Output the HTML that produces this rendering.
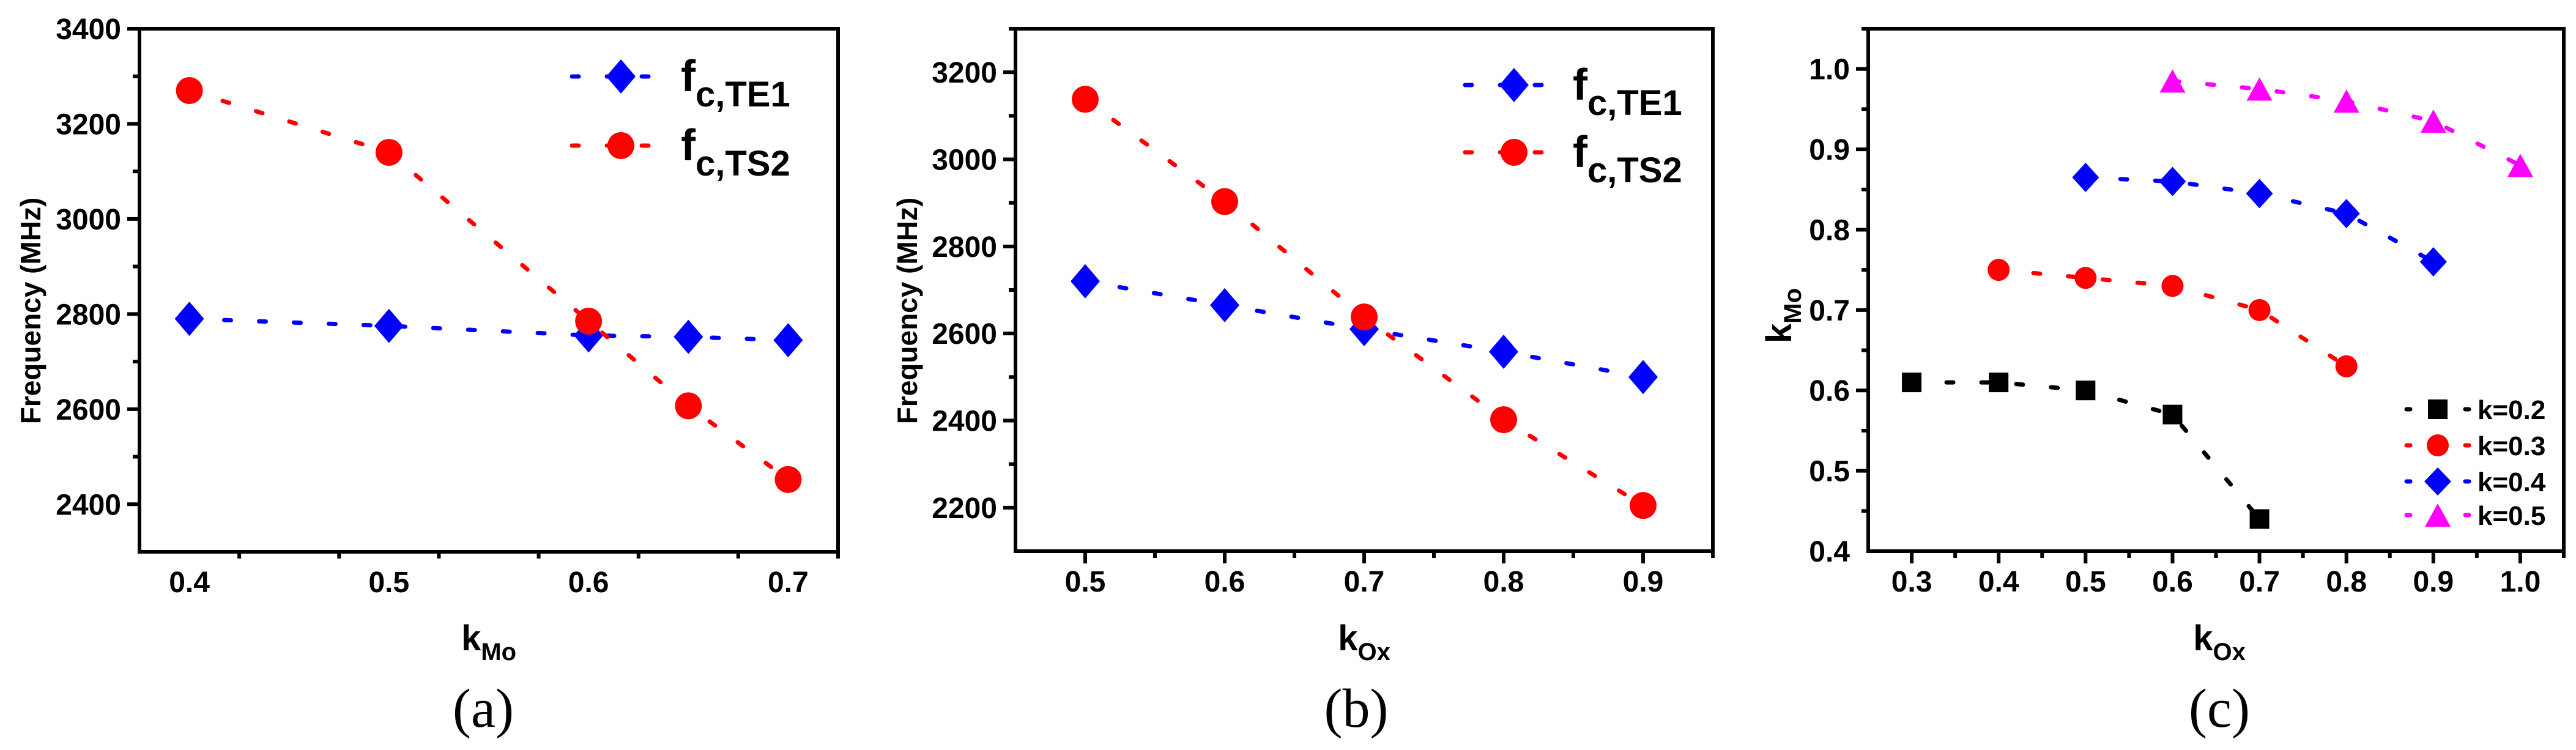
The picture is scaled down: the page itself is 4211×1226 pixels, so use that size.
<!DOCTYPE html>
<html><head><meta charset="utf-8"><style>
html,body{margin:0;padding:0;background:#fff;}
svg{display:block;font-family:"Liberation Sans",Arial,sans-serif;}
</style></head><body>
<svg id="fig" width="4211" height="1226" viewBox="0 0 4211 1226" xmlns="http://www.w3.org/2000/svg"></svg>
<script>
// ---- Panel (a) data ----
const aX = [0.4, 0.5, 0.6, 0.65, 0.7];
const aTE1 = [2790, 2775, 2755, 2752, 2745];
const aTS2 = [3270, 3140, 2785, 2607, 2452];
const aYTicks = [2400, 2600, 2800, 3000, 3200, 3400];
const aXTicks = [0.4, 0.5, 0.6, 0.7];
// ---- Panel (b) data ----
const bX = [0.5, 0.6, 0.7, 0.8, 0.9];
const bTE1 = [2720, 2665, 2610, 2558, 2500];
const bTS2 = [3138, 2903, 2638, 2402, 2205];
const bYTicks = [2200, 2400, 2600, 2800, 3000, 3200];
const bXTicks = [0.5, 0.6, 0.7, 0.8, 0.9];
// ---- Panel (c) data ----
const cX02 = [0.3, 0.4, 0.5, 0.6, 0.7];
const cY02 = [0.61, 0.61, 0.60, 0.57, 0.44];
const cX03 = [0.4, 0.5, 0.6, 0.7, 0.8];
const cY03 = [0.75, 0.74, 0.73, 0.70, 0.63];
const cX04 = [0.5, 0.6, 0.7, 0.8, 0.9];
const cY04 = [0.865, 0.86, 0.845, 0.82, 0.76];
const cX05 = [0.6, 0.7, 0.8, 0.9, 1.0];
const cY05 = [0.985, 0.975, 0.96, 0.935, 0.88];
const cYTicks = [0.4, 0.5, 0.6, 0.7, 0.8, 0.9, 1.0];
const cXTicks = [0.3, 0.4, 0.5, 0.6, 0.7, 0.8, 0.9, 1.0];

const NS = "http://www.w3.org/2000/svg";
const svg = document.getElementById('fig');
function mk(tag, attrs, parent) {
  const e = document.createElementNS(NS, tag);
  for (const k in attrs) e.setAttribute(k, attrs[k]);
  (parent || svg).appendChild(e);
  return e;
}
function scale(d0, d1, r0, r1) { return v => r0 + (v - d0) / (d1 - d0) * (r1 - r0); }

function marker(g, type, x, y, color, s) {
  let e;
  if (type === 'diamond') {
    e = mk('polygon', {points: `${x},${y-s.h} ${x+s.w},${y} ${x},${y+s.h} ${x-s.w},${y}`, fill: color}, g);
  } else if (type === 'circle') {
    e = mk('ellipse', {cx: x, cy: y, rx: s.w, ry: s.h, fill: color}, g);
  } else if (type === 'square') {
    e = mk('rect', {x: x - s.w, y: y - s.h, width: 2*s.w, height: 2*s.h, fill: color}, g);
  } else {
    e = mk('polygon', {points: `${x},${y-s.h} ${x+s.w},${y+s.h} ${x-s.w},${y+s.h}`, fill: color}, g);
  }
  return e;
}

function panel(cfg) {
  const g = mk('g', {});
  
  
  const X = scale(cfg.xd[0], cfg.xd[1], cfg.L, cfg.R);
  const Y = scale(cfg.yd[0], cfg.yd[1], cfg.B, cfg.T);
  // minor/major ticks
  const tg = mk('g', {stroke: '#000', 'stroke-width': 6}, g);
  
  
  for (let v = cfg.xd[0]; v <= cfg.xd[1] + 1e-9; v += cfg.xMinor) {
    const vv = Math.round(v * 1000) / 1000;
    const major = cfg.xTicks.some(t => Math.abs(t - vv) < 1e-6);
    if (Math.abs(vv - cfg.xd[0]) < 1e-6) continue;
    mk('line', {x1: X(vv), x2: X(vv), y1: cfg.B, y2: cfg.B + (major ? 20 : 11)}, tg);
  }
  for (let v = cfg.yd[0]; v <= cfg.yd[1] + 1e-9; v += cfg.yMinor) {
    const vv = Math.round(v * 1000) / 1000;
    const major = cfg.yTicks.some(t => Math.abs(t - vv) < 1e-6);
    if (Math.abs(vv - cfg.yd[0]) < 1e-6) continue;
    mk('line', {x1: cfg.L, x2: cfg.L - (major ? 20 : 11), y1: Y(vv), y2: Y(vv)}, tg);
  }
  const fr = mk('rect', {x: cfg.L, y: cfg.T, width: cfg.R - cfg.L, height: cfg.B - cfg.T, fill: 'none', stroke: '#000', 'stroke-width': 6}, g);
  
  
  // tick labels
  cfg.xTicks.forEach(t => {
    const e = mk('text', {x: X(t), y: cfg.B + 66, 'text-anchor': 'middle', 'font-size': 48, 'font-weight': 'bold'}, g);
    e.textContent = t.toFixed(1);
    
    
  });
  cfg.yTicks.forEach(t => {
    const e = mk('text', {x: cfg.L - 30, y: Y(t) + 17, 'text-anchor': 'end', 'font-size': 48, 'font-weight': 'bold'}, g);
    e.textContent = cfg.yFmt(t);
    
    
  });
  // series
  cfg.series.forEach(s => {
    const sg = mk('g', {}, g);
    
    
    const pts = s.x.map((v, i) => X(v) + ',' + Y(s.y[i])).join(' ');
    mk('polyline', {points: pts, fill: 'none', stroke: s.color, 'stroke-width': 7, 'stroke-dasharray': '11 46', 'stroke-linecap': 'round'}, sg);
    s.x.forEach((v, i) => {
      const m = marker(sg, s.type, X(v), Y(s.y[i]), s.color, s.size);
      
      
    });
  });
  return g;
}

function addText(x, y, txt, attrs, name) {
  const e = mk('text', Object.assign({x: x, y: y}, attrs));
  e.textContent = txt;
  
  
  return e;
}
function subText(x, y, main, sub, fs, sfs, dy, anchor, name, rot) {
  const e = mk('text', {x: x, y: y, 'font-size': fs, 'font-weight': 'bold', 'text-anchor': anchor || 'start'});
  if (rot) e.setAttribute('transform', rot);
  const t1 = mk('tspan', {}, e); t1.textContent = main;
  const t2 = mk('tspan', {'font-size': sfs, dy: dy}, e); t2.textContent = sub;
  
  
  return e;
}

const dia = {w: 24, h: 28}, cir = {w: 22, h: 22};
// Panel a
panel({name: 'panel-a', L: 228, R: 1370, T: 47, B: 902, xd: [0.375, 0.725], yd: [2300, 3400],
  xMinor: 0.05, yMinor: 100, xTicks: aXTicks, yTicks: aYTicks, yFmt: t => String(t),
  series: [
    {name: 'series-fc-te1', x: aX, y: aTE1, color: '#0000ff', type: 'diamond', size: dia},
    {name: 'series-fc-ts2', x: aX, y: aTS2, color: '#ff0000', type: 'circle', size: cir}
  ]});
// Panel b
panel({name: 'panel-b', L: 1660, R: 2800, T: 47, B: 901, xd: [0.45, 0.95], yd: [2100, 3300],
  xMinor: 0.05, yMinor: 100, xTicks: bXTicks, yTicks: bYTicks, yFmt: t => String(t),
  series: [
    {name: 'series-fc-te1', x: bX, y: bTE1, color: '#0000ff', type: 'diamond', size: dia},
    {name: 'series-fc-ts2', x: bX, y: bTS2, color: '#ff0000', type: 'circle', size: cir}
  ]});
// Panel c
panel({name: 'panel-c', L: 3054, R: 4191, T: 47, B: 901, xd: [0.25, 1.05], yd: [0.4, 1.05],
  xMinor: 0.05, yMinor: 0.05, xTicks: cXTicks, yTicks: cYTicks, yFmt: t => t.toFixed(1),
  series: [
    {name: 'series-k-0.2', x: cX02, y: cY02, color: '#000000', type: 'square', size: {w: 16, h: 16}},
    {name: 'series-k-0.3', x: cX03, y: cY03, color: '#ff0000', type: 'circle', size: {w: 18, h: 18}},
    {name: 'series-k-0.4', x: cX04, y: cY04, color: '#0000ff', type: 'diamond', size: {w: 22, h: 24}},
    {name: 'series-k-0.5', x: cX05, y: cY05, color: '#ff00ff', type: 'triangle', size: {w: 21, h: 19}}
  ]});

// Legends a & b
function legendAB(ox, y1, y2, tx) {
  const g = mk('g', {});
  
  
  [[y1, '#0000ff', 'diamond', 'c,TE1'], [y2, '#ff0000', 'circle', 'c,TS2']].forEach(r => {
    const eg = mk('g', {}, g);
    
    
    mk('line', {x1: ox - 80, x2: ox + 54, y1: r[0], y2: r[0], stroke: r[1], 'stroke-width': 7, 'stroke-dasharray': '11 46', 'stroke-linecap': 'round'}, eg);
    marker(eg, r[2], ox, r[0], r[1], r[2] === 'diamond' ? dia : cir);
    const t = mk('text', {x: tx, y: r[0] + 24, 'font-size': 72, 'font-weight': 'bold'}, eg);
    const a = mk('tspan', {}, t); a.textContent = 'f';
    const b = mk('tspan', {'font-size': 58, dy: 25}, t); b.textContent = r[3];
  });
}
legendAB(1015, 125, 238, 1113);
legendAB(2475, 139, 249, 2571);

// Legend c
(function () {
  const g = mk('g', {});
  
  
  const rows = [[669, '#000000', 'square', {w: 16, h: 16}, 'k=0.2'], [728, '#ff0000', 'circle', {w: 18, h: 18}, 'k=0.3'],
    [787, '#0000ff', 'diamond', {w: 22, h: 23}, 'k=0.4'], [842, '#ff00ff', 'triangle', {w: 21, h: 19}, 'k=0.5']];
  rows.forEach(r => {
    const eg = mk('g', {}, g);
    
    
    mk('line', {x1: 3934, x2: 3940, y1: r[0], y2: r[0], stroke: r[1], 'stroke-width': 7, 'stroke-linecap': 'round'}, eg);
    mk('line', {x1: 4030, x2: 4036, y1: r[0], y2: r[0], stroke: r[1], 'stroke-width': 7, 'stroke-linecap': 'round'}, eg);
    marker(eg, r[2], 3985, r[0], r[1], r[3]);
    const t = mk('text', {x: 4050, y: r[0] + 16, 'font-size': 44, 'font-weight': 'bold'}, eg);
    t.textContent = r[4];
  });
})();

// Axis titles
addText(0, 0, 'Frequency (MHz)', {'font-size': 46, 'font-weight': 'bold', 'text-anchor': 'middle', transform: 'translate(66,508) rotate(-90)'}, 'y-axis-title-a');
addText(0, 0, 'Frequency (MHz)', {'font-size': 46, 'font-weight': 'bold', 'text-anchor': 'middle', transform: 'translate(1499,508) rotate(-90)'}, 'y-axis-title-b');
subText(0, 0, 'k', 'Mo', 58, 40, 16, 'middle', 'y-axis-title-c', 'translate(2928,516) rotate(-90)');
subText(799, 1063, 'k', 'Mo', 58, 40, 16, 'middle', 'x-axis-title-a');
subText(2230, 1063, 'k', 'Ox', 58, 40, 16, 'middle', 'x-axis-title-b');
subText(3628, 1063, 'k', 'Ox', 58, 40, 16, 'middle', 'x-axis-title-c');
// Panel captions
const cap = {'font-size': 90, 'text-anchor': 'middle', 'font-family': '"Liberation Serif", "Times New Roman", serif'};
addText(790, 1188, '(a)', cap, 'caption-a');
addText(2217, 1188, '(b)', cap, 'caption-b');
addText(3628, 1188, '(c)', cap, 'caption-c');
</script>
</body></html>
